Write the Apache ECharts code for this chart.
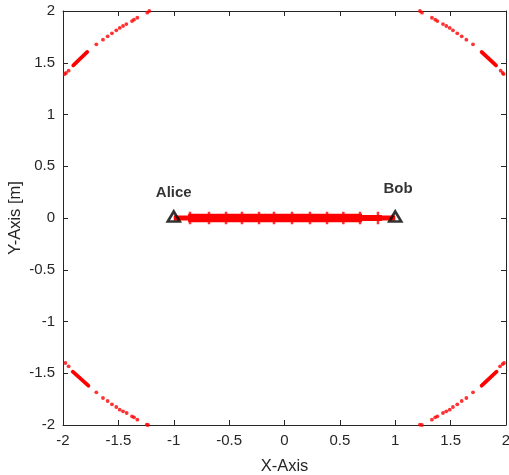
<!DOCTYPE html>
<html>
<head>
<meta charset="utf-8">
<script src="https://cdn.jsdelivr.net/npm/echarts@6/dist/echarts.min.js"></script>
<style>
  html, body { margin: 0; padding: 0; background: #fff; }
  #chart { width: 509px; height: 475px; }
</style>
</head>
<body>
<div id="chart"></div>
<script>
// Axis ranges and ticks
const axisMin = -2;
const axisMax = 2;
const tickStep = 0.5;

// Sparse boundary samples in each corner [x, y]
const topLeftDots = [[-1.221, 2.0], [-1.239, 1.984], [-1.329, 1.935], [-1.359, 1.916], [-1.377, 1.903], [-1.428, 1.874], [-1.458, 1.855], [-1.488, 1.836], [-1.519, 1.813], [-1.558, 1.784], [-1.597, 1.755], [-1.639, 1.723], [-1.699, 1.678], [-1.949, 1.423], [-1.973, 1.401], [-1.985, 1.391]];
const topRightDots = [[1.223, 2.0], [1.241, 1.984], [1.331, 1.935], [1.361, 1.916], [1.380, 1.903], [1.431, 1.874], [1.461, 1.855], [1.492, 1.836], [1.521, 1.813], [1.560, 1.784], [1.600, 1.755], [1.642, 1.723], [1.702, 1.678], [1.952, 1.423], [1.970, 1.401], [1.979, 1.391]];
const bottomLeftDots = [[-1.979, -1.401], [-1.949, -1.433], [-1.699, -1.684], [-1.639, -1.739], [-1.597, -1.768], [-1.558, -1.800], [-1.519, -1.826], [-1.488, -1.852], [-1.458, -1.868], [-1.425, -1.884], [-1.377, -1.916], [-1.359, -1.926], [-1.329, -1.949], [-1.244, -1.997], [-1.232, -2.0]];
const bottomRightDots = [[1.223, -1.997], [1.241, -2.0], [1.331, -1.949], [1.361, -1.926], [1.380, -1.916], [1.431, -1.884], [1.461, -1.868], [1.492, -1.852], [1.521, -1.826], [1.560, -1.800], [1.600, -1.768], [1.642, -1.739], [1.702, -1.684], [1.946, -1.433], [1.970, -1.411], [1.982, -1.401]];

// Densely sampled stretches of the boundary (start, end)
const topLeftRun = [[-1.907, 1.475], [-1.781, 1.604]];
const topRightRun = [[1.780, 1.604], [1.910, 1.475]];
const bottomLeftRun = [[-1.912, -1.485], [-1.771, -1.620]];
const bottomRightRun = [[1.780, -1.620], [1.915, -1.485]];

// Link between the two nodes
const linkFull = [[-1, 0], [1, 0]];
const linkCore = [[-0.87, 0], [0.70, 0]];
const linkTail = [[0.70, 0], [0.88, 0]];
const burstX = [-0.853, -0.682, -0.528, -0.384, -0.230, -0.095, 0.068, 0.230, 0.384, 0.531, 0.682, 0.844];

// Nodes and their name tags
const nodeNames = ['Alice', 'Bob'];
const nodeX = [-1, 1];
const nodeY = [0, 0];
const tagX = [-1.0, 1.025];
const tagY = [0.246, 0.282];

const AX = '#262626';
const RED = '#ff0000';
const FONT = 'Liberation Sans, Arial, sans-serif';

const chart = echarts.init(document.getElementById('chart'), null, { renderer: 'canvas' });

function axisCommon(pos, showLabel) {
  return {
    type: 'value', min: axisMin, max: axisMax, interval: tickStep, position: pos,
    axisLine: { show: true, onZero: false, lineStyle: { color: AX, width: 1 } },
    axisTick: { show: true, inside: true, length: 5, lineStyle: { color: AX, width: 1 } },
    axisLabel: { show: showLabel, color: AX, fontSize: 15, fontFamily: FONT, margin: 8 },
    splitLine: { show: false }
  };
}

function dots(data) {
  return { type: 'scatter', data: data, symbol: 'circle', symbolSize: 3.8,
    itemStyle: { color: RED }, z: 2, silent: true };
}
function run(data) {
  return { type: 'line', data: data, showSymbol: false, symbol: 'none',
    lineStyle: { color: RED, width: 3.8, cap: 'round' }, z: 2, silent: true };
}
function band(data, w) {
  return { type: 'line', data: data, showSymbol: false, symbol: 'none',
    lineStyle: { color: RED, width: w, cap: 'butt' }, z: 3, silent: true };
}

const xBottom = Object.assign(axisCommon('bottom', true), {
  name: 'X-Axis', nameLocation: 'middle', nameGap: 33, nameMoveOverlap: false,
  nameTextStyle: { color: AX, fontSize: 16.5, fontFamily: FONT }
});
const xTop = axisCommon('top', false);
const yLeft = Object.assign(axisCommon('left', true), {
  name: 'Y-Axis [m]', nameLocation: 'middle', nameGap: 39, nameMoveOverlap: false,
  nameTextStyle: { color: AX, fontSize: 16.5, fontFamily: FONT }
});
const yRight = axisCommon('right', false);

chart.setOption({
  animation: false,
  backgroundColor: '#fff',
  grid: { left: 63, top: 11, right: 3, bottom: 50, containLabel: false, outerBoundsMode: 'none' },
  xAxis: [xBottom, xTop],
  yAxis: [yLeft, yRight],
  series: [
    dots(topLeftDots), dots(topRightDots), dots(bottomLeftDots), dots(bottomRightDots),
    run(topLeftRun), run(topRightRun), run(bottomLeftRun), run(bottomRightRun),
    band(linkFull, 5), band(linkCore, 8.5), band(linkTail, 6),
    {
      type: 'scatter', data: burstX.map(x => [x, 0]), symbol: 'rect', symbolSize: [2.5, 12.5],
      itemStyle: { color: RED }, z: 3, silent: true
    },
    {
      type: 'scatter', data: nodeX.map((x, i) => [x, nodeY[i]]), symbol: 'triangle',
      symbolSize: [12, 10], symbolOffset: [0, -1.5],
      itemStyle: { color: 'rgba(0,0,0,0)', borderColor: '#000', borderWidth: 2.6 },
      z: 5, silent: true
    },
    {
      type: 'scatter', data: tagX.map((x, i) => [x, tagY[i]]), symbolSize: 1,
      itemStyle: { color: 'rgba(0,0,0,0)' },
      label: {
        show: true, position: 'inside', formatter: p => nodeNames[p.dataIndex],
        color: '#000', fontSize: 15, fontWeight: 'bold', fontFamily: FONT
      },
      z: 6, silent: true
    }
  ]
});
</script>
</body>
</html>
